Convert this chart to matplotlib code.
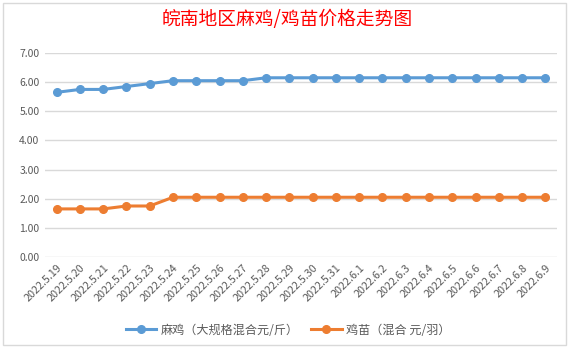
import numpy as np
import matplotlib
matplotlib.use('Agg')
import matplotlib.pyplot as plt
from matplotlib.patches import Rectangle

plt.rcParams['font.family'] = ['Noto Sans CJK SC', 'DejaVu Sans']
plt.rcParams['axes.unicode_minus'] = False

dates = ['2022.5.19', '2022.5.20', '2022.5.21', '2022.5.22', '2022.5.23', '2022.5.24',
         '2022.5.25', '2022.5.26', '2022.5.27', '2022.5.28', '2022.5.29', '2022.5.30',
         '2022.5.31', '2022.6.1', '2022.6.2', '2022.6.3', '2022.6.4', '2022.6.5',
         '2022.6.6', '2022.6.7', '2022.6.8', '2022.6.9']
maji = [5.65, 5.75, 5.75, 5.85, 5.95, 6.05, 6.05, 6.05, 6.05, 6.15, 6.15,
        6.15, 6.15, 6.15, 6.15, 6.15, 6.15, 6.15, 6.15, 6.15, 6.15, 6.15]
jimiao = [1.65, 1.65, 1.65, 1.75, 1.75, 2.05, 2.05, 2.05, 2.05, 2.05, 2.05,
          2.05, 2.05, 2.05, 2.05, 2.05, 2.05, 2.05, 2.05, 2.05, 2.05, 2.05]
yticks = [0, 1, 2, 3, 4, 5, 6, 7]

fig = plt.figure(figsize=(5.77, 3.55), dpi=100)
ax = fig.add_axes([45 / 577, 1 - 257 / 355, (557 - 45) / 577, (257 - 53) / 355])

x = np.arange(len(dates))
ax.plot(x, maji, color='#5b9bd5', lw=2.2, marker='o', ms=5.5, label='麻鸡（大规格混合元/斤）')
ax.plot(x, jimiao, color='#ed7d31', lw=2.2, marker='o', ms=5.5, label='鸡苗（混合 元/羽）')

ax.set_ylim(0, 7)
ax.set_xlim(-0.5, len(dates) - 0.5)
ax.set_yticks(yticks)
ax.set_yticklabels(['%.2f' % v for v in yticks], fontsize=7.5, color='#595959')
ax.set_xticks(x)
ax.set_xticklabels(dates, rotation=45, ha='right', rotation_mode='anchor',
                   fontsize=7.8, color='#595959')
ax.tick_params(length=0, pad=4)
ax.grid(axis='y', color='#d9d9d9', lw=1)
ax.set_axisbelow(True)
for s in ax.spines.values():
    s.set_visible(False)

fig.text(0.498, 1 - 20 / 355, '皖南地区麻鸡/鸡苗价格走势图', color='red',
         fontsize=13.5, ha='center', va='center')

fig.legend(loc='center', bbox_to_anchor=(0.5, 1 - 330 / 355), ncol=2, frameon=False,
           fontsize=8.7, labelcolor='#595959', handlelength=2.5, columnspacing=1.0,
           handletextpad=0.4)

fig.patches.append(Rectangle((3 / 577, 1 - 345 / 355), 563 / 577, 342 / 355,
                             transform=fig.transFigure, fill=False,
                             edgecolor='#d9d9d9', lw=1))

fig.savefig('out.png', dpi=100)
